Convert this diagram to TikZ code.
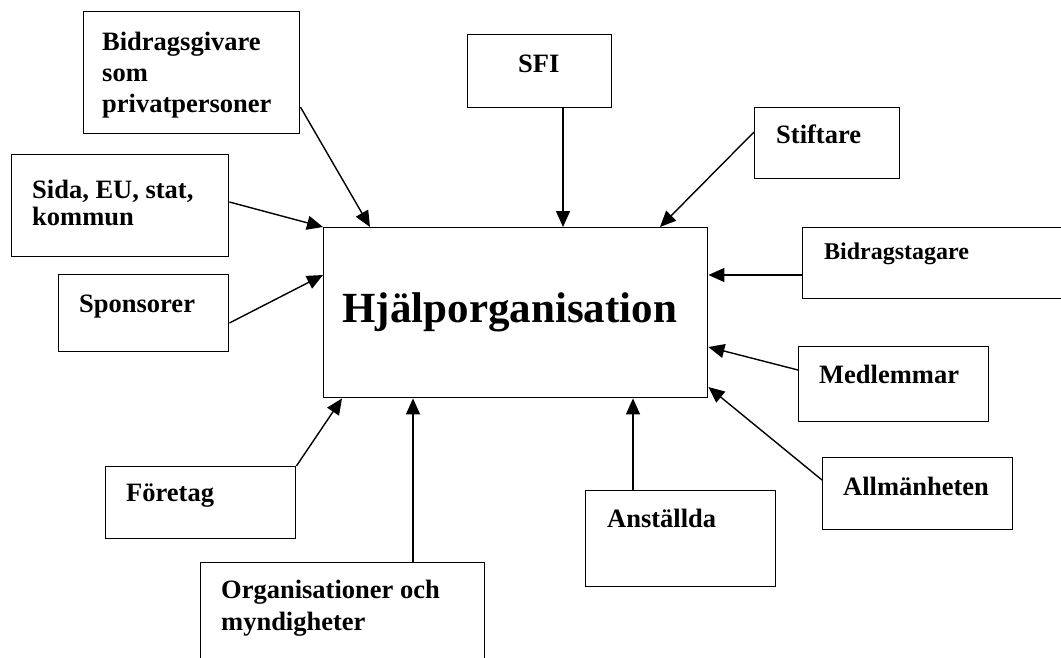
\documentclass[tikz,border=0pt]{standalone}
\usepackage{fontspec}
\setmainfont{Liberation Serif}
\usetikzlibrary{arrows.meta}
\begin{document}
\begin{tikzpicture}[x=1pt,y=-1pt,
        box/.style={draw, line width=1.4pt, inner sep=0pt, anchor=north west},
        lbl/.style={inner sep=0pt, anchor=north west, align=left,
                font=\fontsize{26.5}{31}\selectfont\bfseries},
        conn/.style={line width=1.4pt, -{Triangle[length=16pt,width=14pt]}}]
    \useasboundingbox (0,0) rectangle (1061,657);
    \clip (0,0) rectangle (1061,657);
    % main box
    \node[box, minimum width=384, minimum height=170,
        font=\fontsize{43}{50}\selectfont\bfseries] (main) at (323,227) {Hjälporganisation\hspace*{12pt}};
    % boxes round it
    \foreach \name/\x/\y/\w/\h in {bg/83/11/216/122, sida/11/154/217/102, spons/58/274/170/77,
            sfi/467/34/144/73, stift/754/107/145/71, btag/802/227/280/71,
            medl/798/346/190/75, allm/822/457/190/72, anst/585/490/190/96,
            foret/105/466/190/72, org/200/562/284/120} {
            \node[box, minimum width=\w, minimum height=\h] (\name) at (\x,\y) {};
        }
    % texts
    \node[lbl] (bgtext) at (102,32) {Bidragsgivare\\som\\privatpersoner};
    \node[lbl, font=\fontsize{26.5}{27}\selectfont\bfseries] (sidatext) at (32,180) {Sida, EU, stat,\\kommun};
    \node[lbl] (sponstext) at (79,295) {Sponsorer};
    \node[lbl] (sfitext) at (518,55) {SFI};
    \node[lbl] (stifttext) at (776,125) {Stiftare};
    \node[lbl, font=\fontsize{24}{27}\selectfont\bfseries] (btagtext) at (824,243) {Bidragstagare};
    \node[lbl] (medltext) at (819,365) {Medlemmar};
    \node[lbl] (allmtext) at (843,477) {Allmänheten};
    \node[lbl] (ansttext) at (607,509) {Anställda};
    \node[lbl] (forettext) at (126,484) {Företag};
    \node[lbl, font=\fontsize{26.5}{32}\selectfont\bfseries] (orgtext) at (221,580) {Organisationer och\\myndigheter};
    % arrows into the main box
    \draw[conn] ([yshift=-96pt]bg.north east) -- ([xshift=47pt]main.north west);
    \draw[conn] ([yshift=-48pt]sida.north east) -- (main.north west);
    \draw[conn] ([yshift=-49pt]spons.north east) -- ([yshift=-48pt]main.north west);
    \draw[conn] ([xshift=96pt]sfi.south west) -- ([xshift=240pt]main.north west);
    \draw[conn] ([yshift=-25pt]stift.north west) -- ([xshift=337pt]main.north west);
    \draw[conn] ([yshift=-48pt]btag.north west) -- ([yshift=-48pt]main.north east);
    \draw[conn] ([yshift=-24pt]medl.north west) -- ([yshift=-120pt]main.north east);
    \draw[conn] ([yshift=-23pt]allm.north west) -- ([yshift=-160pt]main.north east);
    \draw[conn] ([xshift=48pt]anst.north west) -- ([xshift=310pt]main.south west);
    \draw[conn] ([xshift=213pt]org.north west) -- ([xshift=90pt]main.south west);
    \draw[conn] (foret.north east) -- ([xshift=19pt]main.south west);
\end{tikzpicture}
\end{document}
